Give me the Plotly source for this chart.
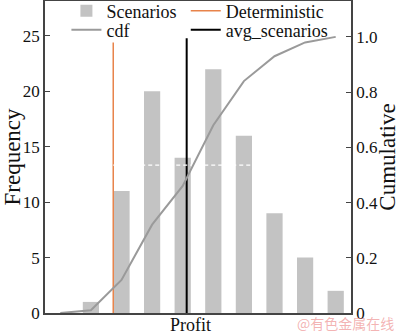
import plotly.graph_objects as go

positions = [1, 2, 3, 4, 5, 6, 7, 8, 9]
frequency = [1, 11, 20, 14, 22, 16, 9, 5, 2]
cdf_x = [0, 1, 2, 3, 4, 5, 6, 7, 8, 9]
cdf_y = [0.0, 0.01, 0.12, 0.32, 0.46, 0.68, 0.84, 0.93, 0.98, 1.0]
det_x = [1.73, 1.73]
det_y = [0, 24.4]
avg_x = [4.13, 4.13]
avg_y = [0, 24.8]
dash_x = [1.73, 9.5]
dash_y = [13.35, 13.35]

FONT = "Liberation Serif"

fig = go.Figure()
fig.add_trace(go.Bar(x=positions, y=frequency, name="Scenarios", width=0.53,
                     legend="legend",
                     marker=dict(color="#c3c3c3", line=dict(width=0))))
fig.add_trace(go.Scatter(x=det_x, y=det_y, mode="lines", name="Deterministic",
                         legend="legend2",
                         line=dict(color="#e8834a", width=1.5)))
fig.add_trace(go.Scatter(x=cdf_x, y=cdf_y, mode="lines", name="cdf", yaxis="y2",
                         legend="legend3",
                         line=dict(color="#9a9a9a", width=2)))
fig.add_trace(go.Scatter(x=avg_x, y=avg_y, mode="lines", name="avg_scenarios",
                         legend="legend4",
                         line=dict(color="#000000", width=2)))
fig.add_trace(go.Scatter(x=dash_x, y=dash_y, mode="lines", showlegend=False,
                         line=dict(color="#ffffff", width=1.2, dash="4px,3px")))

def leg(x, y):
    return dict(x=x, y=y, xanchor="left", yanchor="middle", itemwidth=30,
                bgcolor="rgba(0,0,0,0)",
                font=dict(family=FONT, size=18, color="#111"))

fig.update_layout(
    width=400, height=335,
    margin=dict(l=45, r=49, t=1, b=22, autoexpand=False),
    paper_bgcolor="white", plot_bgcolor="white",
    font=dict(family=FONT, size=16, color="#111"),
    showlegend=True,
    legend=leg(0.07, 0.968),
    legend2=leg(0.46, 0.968),
    legend3=leg(0.07, 0.907),
    legend4=leg(0.46, 0.907),
    xaxis=dict(range=[-0.5, 9.5], showticklabels=False, ticks="", showgrid=False,
               zeroline=False, showline=True, linecolor="#444", linewidth=1.5,
               mirror=True),
    yaxis=dict(range=[0, 28.15], tickvals=[0, 5, 10, 15, 20, 25], ticks="inside",
               ticklen=5, tickcolor="#444", showgrid=False, zeroline=False,
               showline=True, linecolor="#444", linewidth=1.5,
               tickfont=dict(family=FONT, size=17),
               title=dict(text="Frequency", font=dict(family=FONT, size=23), standoff=3)),
    yaxis2=dict(range=[0, 1.13], overlaying="y", side="right",
                tickvals=[0, 0.2, 0.4, 0.6, 0.8, 1.0],
                ticktext=["0", "0.2", "0.4", "0.6", "0.8", "1.0"],
                ticks="inside", ticklen=5, tickcolor="#444", showgrid=False,
                zeroline=False, showline=True, linecolor="#444", linewidth=1.5,
                tickfont=dict(family=FONT, size=17),
                title=dict(text="Cumulative", font=dict(family=FONT, size=23), standoff=3)),
)

fig.add_annotation(text="Profit", xref="paper", yref="paper", x=0.474, y=-0.0385,
                   xanchor="center", yanchor="middle", showarrow=False,
                   font=dict(family=FONT, size=18, color="#111"))
fig.add_annotation(text="@有色金属在线", xref="paper", yref="paper", x=1.144, y=-0.066,
                   xanchor="right", yanchor="bottom", showarrow=False, borderpad=0,
                   font=dict(family="Noto Sans CJK SC", size=14, color="rgba(235,130,130,0.6)"))

fig.write_html("out.html")
